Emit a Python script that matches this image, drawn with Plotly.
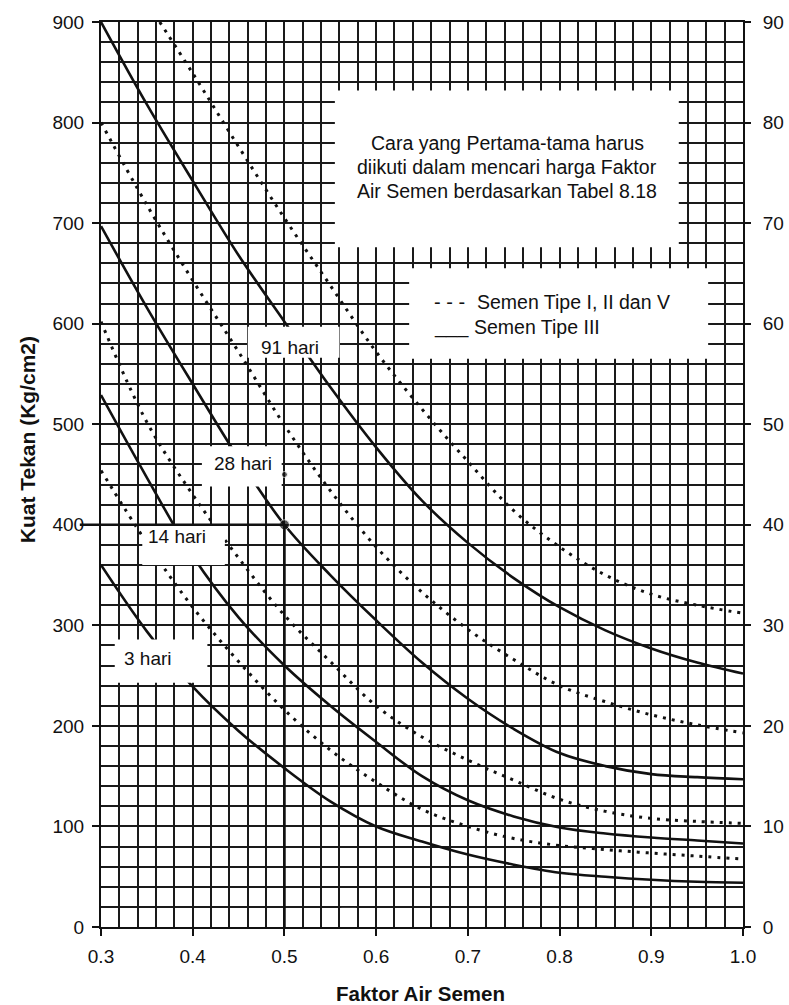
import plotly.graph_objects as go

# ---------------- data ----------------
fas = [0.30, 0.35, 0.40, 0.45, 0.50, 0.55, 0.60, 0.65, 0.70, 0.75, 0.80, 0.85, 0.90, 0.95, 1.00]

# Semen Tipe III (solid)
tipe3_91 = [900, 818, 742, 668, 602, 537, 477, 424, 382, 347, 318, 295, 277, 263, 252]
tipe3_28 = [697, 616, 540, 466, 400, 350, 305, 263, 227, 197, 173, 160, 152, 149, 147]
tipe3_14 = [529, 447, 369, 308, 260, 220, 184, 150, 126, 110, 99, 93, 89, 86, 83]
tipe3_3 = [360, 294, 239, 195, 158, 125, 100, 85, 72, 62, 54, 50, 47, 45, 44]

# Semen Tipe I, II dan V (dotted)
fas_tipe1_91 = [0.364, 0.40, 0.45, 0.50, 0.55, 0.60, 0.65, 0.70, 0.75, 0.80, 0.85, 0.90, 0.95, 1.00]
tipe1_91 = [900, 849, 776, 705, 638, 572, 515, 463, 414, 378, 350, 331, 320, 312]
tipe1_28 = [800, 718, 643, 572, 499, 434, 378, 333, 296, 266, 240, 224, 211, 201, 193]
tipe1_14 = [602, 502, 430, 367, 310, 264, 220, 189, 166, 146, 127, 115, 108, 105, 103]
tipe1_3 = [454, 382, 318, 264, 216, 176, 144, 117, 100, 88, 81, 77, 73.5, 70.5, 67.5]

# worked example
contoh_fas = 0.5
contoh_kuat = 400
contoh_kuat_awal = 450

x_ticks = [0.3, 0.4, 0.5, 0.6, 0.7, 0.8, 0.9, 1.0]
y_ticks = [0, 100, 200, 300, 400, 500, 600, 700, 800, 900]
y2_ticks = [0, 10, 20, 30, 40, 50, 60, 70, 80, 90]

umur_labels = ["91 hari", "28 hari", "14 hari", "3 hari"]
info_lines = ["Cara yang Pertama-tama harus",
              "diikuti dalam mencari harga Faktor",
              "Air Semen berdasarkan Tabel 8.18"]
legend_texts = ["Semen Tipe I, II dan V", "Semen Tipe III"]

# ---------------- figure ----------------
FONT = "Liberation Sans, Arial, sans-serif"
INK = "#111111"
GRID = "#1a1a1a"

fig = go.Figure()

solid = dict(color=INK, width=2.6, shape="spline", smoothing=1.0)
dotted = dict(color=INK, width=3, dash="3px,6px", shape="spline", smoothing=1.0)

for ys in [tipe3_91, tipe3_28, tipe3_14, tipe3_3]:
    fig.add_trace(go.Scatter(x=fas, y=ys, mode="lines", line=solid,
                             showlegend=False, hoverinfo="skip"))
fig.add_trace(go.Scatter(x=fas_tipe1_91, y=tipe1_91, mode="lines", line=dotted,
                         showlegend=False, hoverinfo="skip"))
for ys in [tipe1_28, tipe1_14, tipe1_3]:
    fig.add_trace(go.Scatter(x=fas, y=ys, mode="lines", line=dotted,
                             showlegend=False, hoverinfo="skip"))

# example dots
fig.add_trace(go.Scatter(x=[contoh_fas, contoh_fas], y=[contoh_kuat, contoh_kuat_awal],
                         mode="markers", marker=dict(color=INK, size=[10, 6]),
                         showlegend=False, hoverinfo="skip", cliponaxis=False))

# dummy trace for right axis
fig.add_trace(go.Scatter(x=[0.3], y=[0], yaxis="y2", mode="markers",
                         marker=dict(opacity=0), showlegend=False, hoverinfo="skip"))

# ---------------- white masks (labels / boxes) ----------------
masks = [
    (0.555, 0.930, 676, 832),   # info text box
    (0.636, 0.962, 565, 655),   # legend box
    (0.460, 0.560, 566, 597),   # 91 hari
    (0.410, 0.497, 438, 478),   # 28 hari
    (0.345, 0.435, 360, 400),   # 14 hari
    (0.315, 0.416, 243, 286),   # 3 hari
    (0.562, 0.578, 1, 19),      # notch near bottom
]
shapes = []
for x0, x1, y0, y1 in masks:
    shapes.append(dict(type="rect", xref="x", yref="y", x0=x0, x1=x1, y0=y0, y1=y1,
                       fillcolor="white", line=dict(width=0), layer="above"))

# construction lines of the example
shapes.append(dict(type="line", xref="paper", yref="y", x0=-0.033,
                   x1=(contoh_fas - 0.3) / 0.7, y0=contoh_kuat, y1=contoh_kuat,
                   line=dict(color=INK, width=2.6), layer="above"))
shapes.append(dict(type="line", xref="x", yref="y", x0=contoh_fas, x1=contoh_fas,
                   y0=0, y1=contoh_kuat, line=dict(color=INK, width=2.6), layer="above"))

# ---------------- annotations ----------------
ann = []
label_pos = [(0.506, 576), (0.455, 461), (0.383, 388), (0.351, 267)]
for txt, (lx, ly) in zip(umur_labels, label_pos):
    ann.append(dict(x=lx, y=ly, xref="x", yref="y", text=txt, showarrow=False,
                    font=dict(family=FONT, size=19, color=INK)))

for txt, ly in zip(info_lines, [779.5, 755.5, 732]):
    ann.append(dict(x=0.743, y=ly, xref="x", yref="y", text=txt, showarrow=False,
                    font=dict(family=FONT, size=19.5, color=INK)))

# legend samples and texts
ann.append(dict(x=0.661, y=621.5, xref="x", yref="y", text="- - -", showarrow=False,
                xanchor="left", font=dict(family=FONT, size=20, color=INK)))
ann.append(dict(x=0.7078, y=621.5, xref="x", yref="y", text=legend_texts[0], showarrow=False,
                xanchor="left", font=dict(family=FONT, size=19.5, color=INK)))
ann.append(dict(x=0.661, y=597, xref="x", yref="y", text="___", showarrow=False,
                xanchor="left", font=dict(family=FONT, size=20, color=INK)))
ann.append(dict(x=0.7046, y=597, xref="x", yref="y", text=legend_texts[1], showarrow=False,
                xanchor="left", font=dict(family=FONT, size=19.5, color=INK)))

# axis titles
ann.append(dict(x=-0.115, y=0.538, xref="paper", yref="paper", text="<b>Kuat Tekan (Kg/cm2)</b>",
                textangle=-90, showarrow=False, xanchor="center", yanchor="middle",
                font=dict(family=FONT, size=21, color=INK)))
ann.append(dict(x=0.498, y=-0.073, xref="paper", yref="paper", text="<b>Faktor Air Semen</b>",
                showarrow=False, xanchor="center", yanchor="middle",
                font=dict(family=FONT, size=20.5, color=INK)))

fig.update_layout(
    width=789, height=1005,
    margin=dict(l=101, r=46, t=22, b=78, autoexpand=False),
    paper_bgcolor="white", plot_bgcolor="white",
    font=dict(family=FONT, size=19, color=INK),
    shapes=shapes, annotations=ann, showlegend=False,
    xaxis=dict(range=[0.3, 1.0], tickmode="array", tickvals=x_ticks,
               ticktext=[f"{v:.1f}" for v in x_ticks],
               showgrid=True, gridcolor=GRID, gridwidth=1.5,
               minor=dict(dtick=0.02, tick0=0.3, showgrid=True, gridcolor=GRID, gridwidth=1.5),
               showline=True, linecolor=INK, linewidth=2, mirror=True,
               ticks="outside", ticklen=7, tickwidth=1.5, tickcolor=INK,
               ticklabelstandoff=4, zeroline=False,
               tickfont=dict(family=FONT, size=19, color=INK)),
    yaxis=dict(range=[0, 900], tickmode="array", tickvals=y_ticks,
               showgrid=True, gridcolor=GRID, gridwidth=1.5,
               minor=dict(dtick=20, tick0=0, showgrid=True, gridcolor=GRID, gridwidth=1.5),
               showline=True, linecolor=INK, linewidth=2, mirror=True,
               ticks="outside", ticklen=7, tickwidth=1.5, tickcolor=INK,
               ticklabelstandoff=4, zeroline=False,
               tickfont=dict(family=FONT, size=19, color=INK)),
    yaxis2=dict(range=[0, 90], overlaying="y", side="right", tickmode="array",
                tickvals=y2_ticks, showgrid=False, zeroline=False,
                ticks="outside", ticklen=7, tickwidth=1.5, tickcolor=INK,
                ticklabelstandoff=8,
                tickfont=dict(family=FONT, size=19, color=INK)),
)

fig.write_html("out.html")
